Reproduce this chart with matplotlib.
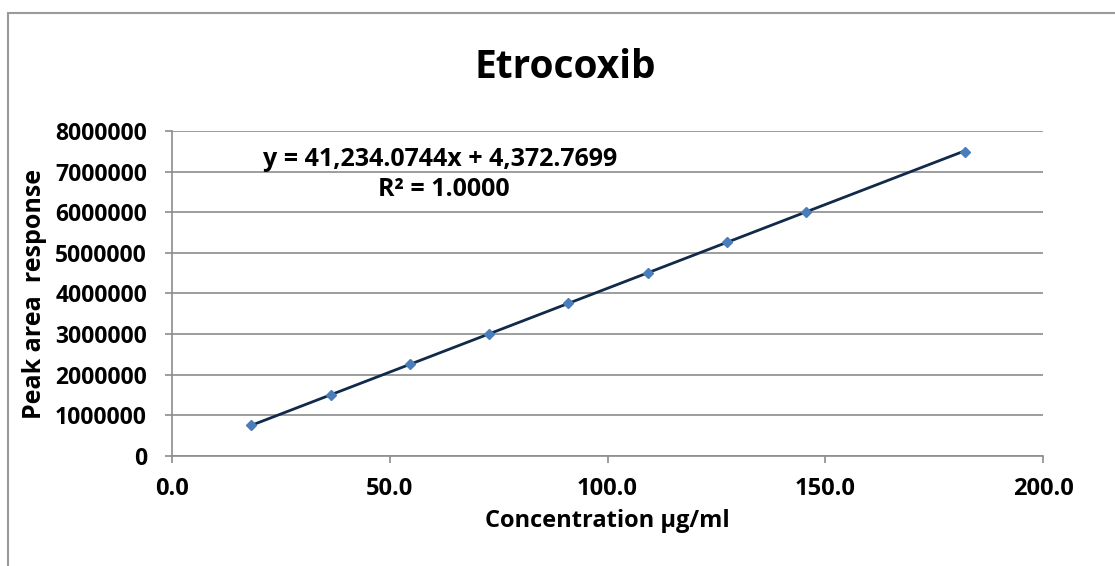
import numpy as np
from matplotlib import pyplot as plt

# calibration data
concentration = [18.2, 36.4, 54.6, 72.8, 91.0, 109.2, 127.4, 145.6, 182.0]
peak_area = [755000, 1505000, 2255000, 3000000, 3757000, 4505000,
             5260000, 6010000, 7490000]
slope = 41234.0744
intercept = 4372.7699
x_ticks = [0.0, 50.0, 100.0, 150.0, 200.0]
y_ticks = list(range(0, 8000001, 1000000))

plt.rcParams["font.family"] = ["Open Sans", "DejaVu Sans"]
plt.rcParams["font.weight"] = "bold"

fig = plt.figure(figsize=(11.15, 5.66), dpi=100)
ax = fig.add_axes([0.1543, 0.1943, 0.7811, 0.5743])

# outer chart border like the Excel chart area
fig.patches.append(plt.Rectangle((8 / 1115, -0.01), 1.02, 1 - 13 / 566 + 0.01,
                                  transform=fig.transFigure, fill=False,
                                  edgecolor="#9a9a9a", linewidth=1.5))

x_fit = np.array([min(concentration), max(concentration)])
ax.plot(x_fit, slope * x_fit + intercept, color="#0f2a4a", linewidth=2, zorder=3)
ax.plot(concentration, peak_area, linestyle="none", marker="D", markersize=5.5,
        color="#4a7ebb", zorder=4)

ax.set_xlim(0, 200)
ax.set_ylim(0, 8000000)
ax.set_xticks(x_ticks)
ax.set_xticklabels([f"{v:.1f}" for v in x_ticks], fontsize=17, fontweight="bold")
ax.set_yticks(y_ticks)
ax.set_yticklabels([str(v) for v in y_ticks], fontsize=16.5, fontweight="bold")
ax.grid(axis="y", color="#8c8c8c", linewidth=1.2)
ax.set_axisbelow(True)
for side in ("top", "right"):
    ax.spines[side].set_visible(False)
for side in ("left", "bottom"):
    ax.spines[side].set_color("#8c8c8c")
    ax.spines[side].set_linewidth(1.2)
ax.tick_params(axis="both", color="#8c8c8c", length=5, width=1.2)
ax.tick_params(axis="y", pad=13)
ax.tick_params(axis="x", pad=10)

fig.text(565 / 1115, 1 - 67 / 566, "Etrocoxib", ha="center", va="center",
         fontsize=28, fontweight="bold")
ax.set_xlabel("Concentration µg/ml", fontsize=17, fontweight="bold", labelpad=6)
ax.set_ylabel("Peak area  response", fontsize=18, fontweight="bold", labelpad=6)

ax.text(61.5, 7290000, "y = 41,234.0744x + 4,372.7699", ha="center", va="center",
        fontsize=18, fontweight="bold")
ax.text(62.5, 6550000, "R² = 1.0000", ha="center", va="center",
        fontsize=18, fontweight="bold")

fig.savefig("out.png", dpi=100)
